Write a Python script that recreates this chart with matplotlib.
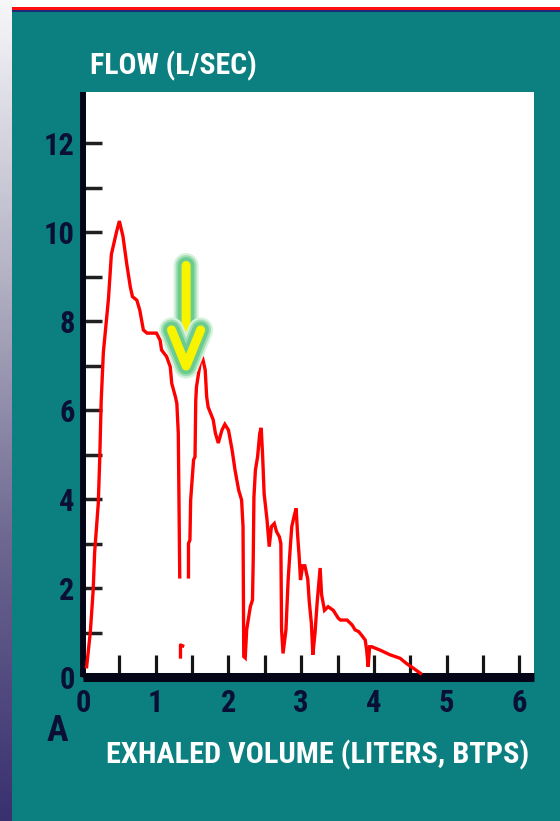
import numpy as np
import matplotlib
matplotlib.use("Agg")
import matplotlib.pyplot as plt
from matplotlib.patches import FancyArrowPatch, Rectangle
from matplotlib.colors import LinearSegmentedColormap
import matplotlib.patheffects as pe

FONTS = ['Roboto Condensed', 'Open Sans Condensed', 'Noto Sans Condensed',
         'DejaVu Sans Condensed', 'Liberation Sans', 'DejaVu Sans']
plt.rcParams['font.family'] = FONTS
plt.rcParams['font.weight'] = 'bold'
plt.rcParams['font.stretch'] = 'condensed'

# ---- data ----
volume = [0.05, 0.10, 0.14, 0.16, 0.21, 0.23, 0.25, 0.28, 0.35, 0.39, 0.46, 0.50,
          0.55, 0.60, 0.65, 0.68, 0.74, 0.78, 0.83, 0.88, 1.01, 1.06, 1.08, 1.15,
          1.20, 1.22, 1.27, 1.29, 1.31, 1.33,
          np.nan,
          1.45, 1.45, 1.47, 1.48, 1.52, 1.54, 1.55, 1.56, 1.61, 1.64, 1.68, 1.70,
          1.72, 1.79, 1.82, 1.86, 1.91, 1.95, 2.00, 2.05, 2.09, 2.14, 2.18, 2.20,
          2.21, 2.23, 2.25, 2.30, 2.33, 2.34, 2.35, 2.37, 2.40, 2.43, 2.45, 2.47,
          2.49, 2.53, 2.56, 2.59, 2.63, 2.66, 2.70, 2.72, 2.73, 2.75, 2.79, 2.82,
          2.85, 2.87, 2.90, 2.93, 2.95, 2.97, 2.99, 3.02, 3.05, 3.09, 3.11, 3.14,
          3.16, 3.19, 3.22, 3.26, 3.28, 3.32, 3.37, 3.44, 3.51, 3.54, 3.63, 3.70,
          3.74, 3.79, 3.83, 3.88, 3.90, 3.92, 3.94, 3.97, 4.09, 4.22, 4.36, 4.45,
          4.54, 4.64]
flow = [0.23, 1.00, 1.95, 2.80, 3.90, 4.90, 6.20, 7.30, 8.50, 9.50, 10.00, 10.25,
        9.90, 9.30, 8.77, 8.55, 8.47, 8.25, 7.80, 7.73, 7.73, 7.57, 7.35, 7.20,
        6.97, 6.60, 6.30, 6.15, 5.48, 2.25,
        np.nan,
        2.25, 3.00, 3.08, 3.98, 4.88, 4.95, 6.22, 6.52, 7.05, 7.20, 6.90, 6.30,
        6.07, 5.78, 5.48, 5.26, 5.55, 5.68, 5.55, 5.10, 4.65, 4.20, 3.98, 3.38,
        0.46, 0.43, 1.06, 1.58, 1.73, 2.63, 4.05, 4.65, 4.95, 5.48, 5.60, 4.95,
        4.12, 3.53, 2.93, 3.38, 3.45, 3.27, 3.15, 3.00, 1.06, 0.53, 1.06, 2.18,
        2.93, 3.38, 3.60, 3.79, 3.20, 2.75, 2.18, 2.50, 2.50, 2.20, 1.70, 1.20,
        0.50, 1.00, 1.70, 2.45, 1.85, 1.50, 1.58, 1.50, 1.32, 1.28, 1.28, 1.17,
        1.06, 1.02, 0.94, 0.83, 0.60, 0.23, 0.68, 0.68, 0.60, 0.50, 0.42, 0.30,
        0.20, 0.08]
blip_volume = [1.34, 1.34, 1.37]
blip_flow = [0.45, 0.72, 0.70]

x_ticks = [0, 1, 2, 3, 4, 5, 6]
x_minor = [0.5, 1.5, 2.5, 3.5, 4.5, 5.5]
y_ticks = [0, 2, 4, 6, 8, 10, 12]
y_minor = [1, 3, 5, 7, 9, 11]
x_max, y_max = 6.2, 13.15

arrow_tail = (1.417, 9.25)
arrow_tip = (1.417, 6.72)

y_title = "FLOW (L/SEC)"
x_title = "EXHALED VOLUME (LITERS, BTPS)"
panel = "A"

# ---- figure ----
W, H = 560, 821
fig = plt.figure(figsize=(W / 100, H / 100), dpi=100)
fig.patch.set_facecolor('#0c8080')

# left gradient strip
gax = fig.add_axes([0, 0, 12 / W, 1])
gax.axis('off')
cmap = LinearSegmentedColormap.from_list('strip', ['#f7f7fa', '#b4b2c4', '#6c6690', '#39306f'])
gax.imshow(np.linspace(0, 1, 256)[:, None], aspect='auto', cmap=cmap)

# top bands
fig.add_artist(Rectangle((12 / W, 1 - 7 / H), 1, 7 / H, transform=fig.transFigure,
                         color='white', lw=0))
fig.add_artist(Rectangle((12 / W, 1 - 10 / H), 1, 3 / H, transform=fig.transFigure,
                         color='#ff1010', lw=0))
fig.add_artist(Rectangle((12 / W, 1 - 12 / H), 1, 2 / H, transform=fig.transFigure,
                         color='#1a2a7a', lw=0))

ax = fig.add_axes([83 / W, 1 - 677 / H, 451 / W, 585 / H])
ax.set_facecolor('white')
ax.set_xlim(0, x_max)
ax.set_ylim(0, y_max)

ax.plot(volume, flow, color='#ff0000', lw=2.4, solid_joinstyle='miter', zorder=3)
ax.plot(blip_volume, blip_flow, color='#ff0000', lw=2.4, zorder=3)

for s in ['top', 'right']:
    ax.spines[s].set_visible(False)
ax.spines['left'].set_linewidth(4.3)
ax.spines['left'].set_color('#050518')
ax.spines['bottom'].set_linewidth(6.5)
ax.spines['bottom'].set_color('#050518')
ax.spines['bottom'].set_capstyle('butt')
ax.spines['left'].set_capstyle('butt')

ax.set_xticks(x_ticks)
ax.set_xticks(x_minor, minor=True)
ax.set_yticks(y_ticks)
ax.set_yticks(y_minor, minor=True)
ax.tick_params(axis='x', which='both', direction='in', length=15.5, width=2.3,
               color='#151515', pad=8, labelsize=22, labelcolor='#0a0f35')
ax.tick_params(axis='y', which='both', direction='in', length=14, width=2.5,
               color='#202020', pad=6, labelsize=22, labelcolor='#0a0f35')
for lab in ax.get_xticklabels() + ax.get_yticklabels():
    lab.set_fontweight('bold')

# arrow with glow
arr = FancyArrowPatch(arrow_tail, arrow_tip, arrowstyle='->,head_length=2.6,head_width=1.05',
                      mutation_scale=10, color='#f8f400', lw=6.5, zorder=5,
                      joinstyle='round', capstyle='round', shrinkA=0, shrinkB=0)
arr.set_path_effects([pe.Stroke(linewidth=18, foreground='#d6f1dc'),
                      pe.Stroke(linewidth=15, foreground='#9fdeb4'),
                      pe.Stroke(linewidth=12, foreground='#6ccb8e'),
                      pe.Normal()])
ax.add_patch(arr)

# texts
fig.text(90 / W, 1 - 66 / H, y_title, color='white', fontsize=21.4, fontweight='bold',
         ha='left', va='center')
fig.text(318 / W, 1 - 755 / H, x_title, color='white', fontsize=21.9, fontweight='bold',
         ha='center', va='center')
fig.text(57 / W, 1 - 731 / H, panel, color='#0a0f35', fontsize=26, fontweight='heavy',
         ha='center', va='center')

fig.savefig('out.png', dpi=100, facecolor=fig.get_facecolor())
